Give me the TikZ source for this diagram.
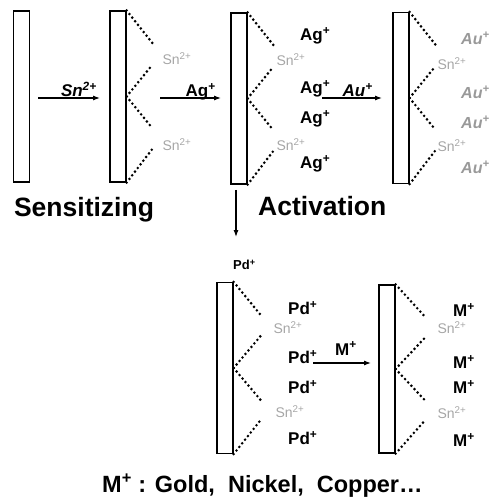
\documentclass[tikz,border=0pt]{standalone}
\usepackage{fontspec}
\setmainfont{Liberation Sans}
\usetikzlibrary{arrows.meta}
\newcommand\platefan[2]{%
  \path (#1.north east) ++(#2,33) coordinate (#1a);
  \path (#1.east) ++(#2,-32) coordinate (#1b);
  \path (#1.east) ++(#2,32) coordinate (#1c);
  \path (#1.south east) ++(#2,-34) coordinate (#1d);
  \draw[dots] (#1.north east) -- (#1a);
  \draw[dots] (#1.east) -- (#1b);
  \draw[dots] (#1.east) -- (#1c);
  \draw[dots] (#1.south east) -- (#1d);
}
\begin{document}
\begin{tikzpicture}[x=1pt,y=-1pt,
  plate/.style={draw, line width=1.2pt, fill=white, minimum width=16pt, minimum height=171pt, inner sep=0pt},
  dots/.style={line width=2.9pt, dash pattern=on 0pt off 4.6pt, line cap=round},
  ion/.style={font=\fontsize{17}{17}\selectfont\bfseries, inner sep=0pt},
  ionsm/.style={font=\fontsize{13}{13}\selectfont\bfseries, inner sep=0pt},
  faint/.style={font=\fontsize{14}{14}\selectfont, text=black!35, inner sep=0pt},
  ghost/.style={font=\fontsize{16}{16}\selectfont\bfseries\itshape, text=black!40, inner sep=0pt},
  big/.style={font=\fontsize{26.5}{26.5}\selectfont\bfseries, inner sep=0pt},
  arr/.style={-{Latex[length=7pt,width=5pt]}, line width=1.1pt},
]
\useasboundingbox (0,0) rectangle (499,502);

% plates
\node[plate] (p1) at (21.5,96.5) {};
\node[plate] (p2) at (118,96.5) {};
\node[plate] (p3) at (239,98.5) {};
\node[plate] (p4) at (401,98) {};
\node[plate] (p5) at (225,368) {};
\node[plate, minimum height=168pt] (p6) at (387,369) {};

\platefan{p2}{26}
\platefan{p3}{26}
\platefan{p4}{26}
\platefan{p5}{27}
\platefan{p6}{30}

% faint Sn2+ labels
\node[faint] (s2a) at (177,59) {Sn\textsuperscript{2+}};
\node[faint] (s2b) at (177,145) {Sn\textsuperscript{2+}};
\node[faint] (s3a) at (291,60) {Sn\textsuperscript{2+}};
\node[faint] (s3b) at (291,145) {Sn\textsuperscript{2+}};
\node[faint] (s4a) at (452,64) {Sn\textsuperscript{2+}};
\node[faint] (s4b) at (452,146) {Sn\textsuperscript{2+}};
\node[faint] (s5a) at (288,328) {Sn\textsuperscript{2+}};
\node[faint] (s5b) at (290,412) {Sn\textsuperscript{2+}};
\node[faint] (s6a) at (452,328) {Sn\textsuperscript{2+}};
\node[faint] (s6b) at (452,413) {Sn\textsuperscript{2+}};

% Ag+ on plate 3
\node[ion, anchor=west] (ag1) at (300,36) {Ag\textsuperscript{+}};
\node[ion, anchor=west] (ag2) at (300,89) {Ag\textsuperscript{+}};
\node[ion, anchor=west] (ag3) at (300,119) {Ag\textsuperscript{+}};
\node[ion, anchor=west] (ag4) at (300,164) {Ag\textsuperscript{+}};

% Au+ on plate 4
\node[ghost, anchor=west] (au1) at (461,38) {Au\textsuperscript{+}};
\node[ghost, anchor=west] (au2) at (461,92) {Au\textsuperscript{+}};
\node[ghost, anchor=west] (au3) at (461,122) {Au\textsuperscript{+}};
\node[ghost, anchor=west] (au4) at (461,167) {Au\textsuperscript{+}};

% Pd+ on plate 5
\node[ionsm, anchor=west] (pd0) at (233,265) {Pd\textsuperscript{+}};
\node[ion, anchor=west] (pd1) at (288,308) {Pd\textsuperscript{+}};
\node[ion, anchor=west] (pd2) at (288,357) {Pd\textsuperscript{+}};
\node[ion, anchor=west] (pd3) at (288,387) {Pd\textsuperscript{+}};
\node[ion, anchor=west] (pd4) at (288,438) {Pd\textsuperscript{+}};

% M+ on plate 6
\node[ion, anchor=west] (m1) at (453,310) {M\textsuperscript{+}};
\node[ion, anchor=west] (m2) at (453,362) {M\textsuperscript{+}};
\node[ion, anchor=west] (m3) at (453,387) {M\textsuperscript{+}};
\node[ion, anchor=west] (m4) at (453,440) {M\textsuperscript{+}};

% process arrows
\coordinate (a1s) at (38,98);  \coordinate (a1e) at (100,98);
\coordinate (a2s) at (160,98); \coordinate (a2e) at (221,98);
\coordinate (a3s) at (322,98); \coordinate (a3e) at (382,98);
\coordinate (a4s) at (236,190); \coordinate (a4e) at (236,237);
\coordinate (a5s) at (313,363); \coordinate (a5e) at (371,363);
\draw[arr] (a1s) -- (a1e);
\draw[arr] (a2s) -- (a2e);
\draw[arr] (a3s) -- (a3e);
\draw[arr] (a4s) -- (a4e);
\draw[arr] (a5s) -- (a5e);

\node[ion, anchor=base east, font=\fontsize{17}{17}\selectfont\bfseries\itshape] (l1) at (97,97) {Sn\textsuperscript{2+}};
\node[ion, anchor=base east] (l2) at (216,97) {Ag\textsuperscript{+}};
\node[ion, anchor=base east, font=\fontsize{17}{17}\selectfont\bfseries\itshape] (l3) at (373,97) {Au\textsuperscript{+}};
\node[ion, anchor=base west] (l5) at (335,355) {M\textsuperscript{+}};

% captions
\node[big] (sens) at (84,210) {Sensitizing};
\node[big, anchor=west] (act) at (258,206) {Activation};
\node[big, anchor=west, font=\fontsize{23.5}{23.5}\selectfont\bfseries] (mlist) at (102,486) {M\textsuperscript{+} : Gold,\ \ Nickel,\ \ Copper\ldots};
\end{tikzpicture}
\end{document}
